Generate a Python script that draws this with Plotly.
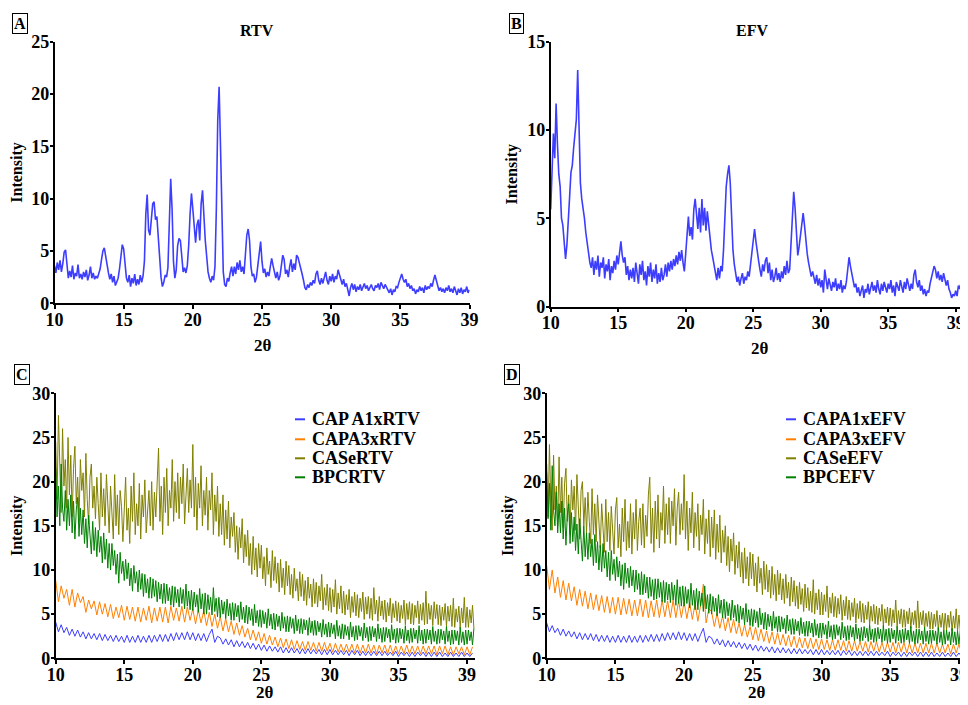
import plotly.graph_objects as go

# ---------------- DATA ----------------
# Panel A: RTV powder pattern, 2θ = 10.0 .. 40.0 step 0.1
rtv_intensity = [
    3.6, 2.9, 3.9, 3.2, 4.1, 3.0, 3.8, 4.9, 5.1, 3.4,
    2.4, 3.1, 2.5, 3.6, 2.3, 2.9, 2.6, 3.7, 2.4, 2.8,
    2.3, 3.0, 2.5, 3.2, 2.2, 2.7, 3.5, 2.4, 2.9, 2.3,
    2.6, 2.4, 2.9, 3.3, 4.2, 5.0, 5.3, 4.4, 3.8, 2.9,
    2.3, 2.8, 2.0, 2.6, 1.7, 2.1, 2.4, 3.3, 4.8, 5.6,
    5.2, 3.6, 2.4, 2.0, 2.7, 1.6, 2.4, 1.9, 2.8, 1.7,
    2.3, 1.8, 2.7, 2.0, 2.6, 4.0, 8.5, 10.4, 7.0, 6.5,
    8.2, 9.5, 9.7, 8.0, 8.3, 6.5, 4.0, 2.5, 1.6, 2.0,
    2.7, 2.5, 3.4, 7.5, 11.9, 9.0, 4.0, 2.4, 3.2, 5.5,
    6.2, 6.0, 4.5, 3.0, 3.4, 2.9, 3.6, 5.5, 8.5, 10.5,
    9.0, 7.0, 5.8, 7.5, 8.0, 6.0, 9.5, 10.8, 8.0, 6.0,
    4.5, 3.0, 2.4, 2.0, 2.6, 2.2, 3.5, 9.0, 17.5, 20.7,
    15.0, 8.0, 3.0, 1.8, 1.6, 2.4, 2.1, 2.9, 3.5, 2.6,
    3.5, 2.8, 3.9, 3.2, 4.1, 3.0, 3.5, 2.8, 4.5, 6.5,
    7.1, 6.0, 3.5, 2.6, 2.8, 2.0, 2.5, 3.8, 5.2, 5.9,
    4.0, 2.9, 3.3, 2.5, 3.0, 2.6, 3.5, 4.3, 3.6, 2.8,
    2.4, 3.0, 2.2, 2.6, 3.6, 4.6, 4.2, 2.8, 3.2, 2.5,
    3.5, 4.2, 3.0, 3.8, 3.2, 4.6, 4.4, 3.9, 3.5, 2.8,
    2.2, 1.5, 1.3, 1.8, 1.5, 2.0, 1.7, 2.2, 1.9, 2.8,
    3.1, 2.2, 1.8, 2.4, 1.9, 2.6, 3.0, 2.2, 1.8, 2.6,
    2.1, 2.8, 2.0, 2.6, 2.3, 3.2, 2.7, 2.2, 1.8, 2.3,
    1.6, 1.9, 1.2, 0.7, 1.5, 1.9, 1.3, 1.8, 1.1, 1.6,
    1.3, 1.8, 1.2, 1.6, 1.9, 1.4, 1.7, 1.2, 1.5, 1.8,
    1.4, 1.2, 1.7, 1.5, 1.9, 1.3, 2.0, 1.6, 1.4, 1.8,
    1.5, 1.2, 1.0, 1.4, 0.8, 1.3, 1.1, 1.6, 1.5, 2.0,
    2.4, 2.8, 2.3, 2.0, 2.3, 1.6, 1.9, 1.4, 1.7, 1.2,
    1.4, 0.9, 1.3, 1.1, 1.6, 1.2, 1.5, 1.0, 1.7, 1.3,
    1.6, 1.4, 1.9, 1.6, 2.2, 2.7, 2.2, 1.7, 1.2, 1.5,
    1.1, 1.4, 1.0, 1.5, 1.2, 1.7, 1.1, 1.4, 1.0, 1.6,
    1.2, 0.8, 1.4, 1.0, 1.5, 0.9, 1.3, 1.1, 1.6, 1.0,
    1.3,
]

# Panel B: EFV powder pattern, 2θ = 10.0 .. 40.9 step 0.1
efv_intensity = [
    5.5, 8.0, 9.8, 8.4, 11.5, 9.2, 7.5, 6.8, 5.0, 4.6,
    3.3, 2.7, 3.5, 4.6, 6.2, 7.6, 8.0, 9.0, 9.8, 10.6,
    13.4, 10.2, 7.0, 6.1, 5.6, 5.0, 4.2, 3.6, 3.0, 2.5,
    2.2, 2.8, 1.8, 2.6, 2.1, 2.9, 1.7, 2.5, 2.2, 2.8,
    1.6, 2.4, 2.0, 2.7, 1.5, 2.3, 1.9, 2.6, 2.1, 2.9,
    2.4, 3.2, 3.7, 2.9, 2.5, 2.8, 1.8, 2.3, 1.5, 2.1,
    1.6, 2.2, 1.4, 2.5, 1.9, 1.3, 2.4, 1.8, 2.6, 1.5,
    2.0, 1.2, 2.3, 1.7, 2.5, 1.4, 2.1, 1.6, 2.4, 1.3,
    1.9, 1.4, 2.2, 1.5, 1.8, 2.4, 1.7, 2.5, 2.0, 2.6,
    2.1, 2.7, 2.3, 2.9, 2.4, 3.1, 2.6, 3.2, 2.5, 2.0,
    3.0, 4.2, 5.1, 4.0, 4.5, 3.8, 5.5, 6.1, 5.0, 4.4,
    5.6, 4.2, 6.1, 4.6, 5.6, 4.3, 5.4, 4.6, 3.8, 3.2,
    2.8, 2.4, 2.0, 1.5, 2.2, 1.6, 2.3, 2.0, 3.2, 5.5,
    6.8, 7.5, 8.0, 7.0, 5.0, 3.2, 2.4, 1.8, 1.4, 1.7,
    1.2, 1.6, 1.9, 1.3, 1.7, 1.5, 2.0, 1.7, 2.4, 3.0,
    3.5, 4.4, 3.7, 3.0, 2.6, 2.1, 1.7, 2.4, 2.0, 2.6,
    2.8, 1.9, 2.5, 1.5, 2.1, 1.4, 1.7, 2.2, 1.5, 1.9,
    1.4, 2.0, 1.6, 2.3, 1.8, 2.6, 1.9, 2.1, 3.4, 5.2,
    6.5, 5.6, 4.0, 2.9, 3.4, 4.0, 4.8, 5.3, 4.6, 3.6,
    3.0, 2.5, 2.1, 1.7, 2.0, 1.6, 1.3, 1.8, 1.2, 1.6,
    1.1, 1.5, 0.8, 2.1, 1.4, 1.0, 1.6, 1.2, 0.9, 1.4,
    1.1, 1.6, 0.9, 1.3, 1.0, 1.5, 0.8, 1.2, 1.0, 1.4,
    2.0, 2.8, 2.3, 1.9, 1.4, 1.1, 1.3, 0.8, 1.1, 0.6,
    0.9, 1.2, 0.5, 1.0, 0.8, 1.3, 0.7, 1.1, 1.4, 0.9,
    1.2, 0.8, 1.5, 1.0, 0.7, 1.3, 0.9, 1.4, 1.1, 0.8,
    1.3, 1.0, 1.5, 0.8, 1.2, 0.6, 1.4, 1.1, 0.9, 1.5,
    1.2, 0.8, 1.4, 1.0, 1.6, 1.2, 0.9, 1.3, 1.0, 1.8,
    2.1, 1.4, 1.1, 1.5, 0.9, 1.2, 0.7, 1.0, 0.6, 0.9,
    0.8, 1.3, 1.6, 1.9, 2.3, 2.1, 1.6, 2.0, 1.5, 1.8,
    1.4, 1.9, 1.6, 1.2, 1.5, 1.0, 0.8, 0.5, 0.7, 0.6,
    0.9, 0.6, 1.2, 1.0, 1.4, 1.3, 1.6, 1.9, 2.2, 2.5,
]

# Panel C (RTV complexes). Olive/green read every 0.1°, blue/orange every 0.2°, from 2θ = 10
capa1_rtv = [
    4.1, 3.0, 3.8, 2.9, 3.5,  2.6, 3.3, 2.5, 3.2, 2.4,  3.0, 2.2, 2.9, 2.2, 2.8,
    2.1, 2.8, 2.0, 2.7, 2.0,  2.6, 1.9, 2.6, 1.9, 2.5,  1.8, 2.6, 1.8, 2.5, 1.8,
    2.6, 1.8, 2.5, 1.8, 2.6,  1.8, 2.6, 1.9, 2.7, 1.9,  2.7, 1.9, 2.8, 2.0, 2.9,
    2.1, 2.9, 2.1, 3.0, 2.1,  2.9, 2.0, 2.8, 2.0, 2.8,  1.9, 2.7, 3.3, 1.8, 2.5,
    2.3, 1.6, 2.2, 1.5, 2.1,  1.3, 2.0, 1.3, 1.9, 1.2,  1.8, 1.1, 1.7, 1.0, 1.6,
    0.9, 1.5, 0.8, 1.4, 0.8,  1.3, 0.7, 1.3, 0.6, 1.2,  0.6, 1.2, 0.6, 1.1, 0.5,
    1.1, 0.5, 1.1, 0.5, 1.0,  0.5, 1.0, 0.4, 1.0, 0.4,  1.0, 0.4, 0.9, 0.4, 0.9,
    0.4, 0.9, 0.3, 0.9, 0.4,  0.9, 0.3, 0.8, 0.3, 0.8,  0.3, 0.8, 0.3, 0.8, 0.3,
    0.8, 0.3, 0.7, 0.3, 0.8,  0.2, 0.7, 0.3, 0.7, 0.2,  0.7, 0.2, 0.7, 0.3, 0.7,
    0.2, 0.7, 0.2, 0.7, 0.2,  0.7, 0.2, 0.6, 0.2, 0.7,  0.2, 0.6, 0.2, 0.7, 0.2,
    0.6, 0.2, 0.6,
]
capa3_rtv = [
    8.8, 6.4, 8.2, 6.8, 7.8,  6.0, 7.8, 5.8, 7.4, 6.3,  7.0, 5.2, 6.6, 5.6, 6.5,
    4.9, 6.4, 5.0, 6.2, 4.7,  6.1, 4.5, 5.8, 4.6, 6.0,  4.3, 5.9, 4.4, 5.8, 4.2,
    5.8, 4.1, 5.7, 4.3, 5.9,  4.0, 5.7, 4.2, 5.8, 4.1,  5.8, 4.0, 5.9, 4.3, 5.7,
    4.2, 5.9, 4.1, 5.8, 4.3,  5.6, 3.9, 5.5, 4.0, 5.4,  3.7, 5.2, 3.6, 5.0, 3.4,
    4.7, 3.1, 4.5, 3.0, 4.2,  2.7, 4.0, 2.6, 3.7, 2.4,  3.4, 2.1, 3.2, 2.0, 3.0,
    1.7, 2.8, 1.6, 2.6, 1.5,  2.4, 1.3, 2.3, 1.2, 2.2,  1.1, 2.1, 1.0, 2.0, 1.0,
    1.9, 0.9, 1.9, 0.9, 1.8,  0.8, 1.8, 0.8, 1.8, 0.8,  1.7, 0.7, 1.7, 0.7, 1.6,
    0.7, 1.6, 0.7, 1.6, 0.6,  1.6, 0.6, 1.5, 0.6, 1.6,  0.6, 1.5, 0.5, 1.5, 0.6,
    1.5, 0.5, 1.5, 0.5, 1.4,  0.5, 1.4, 0.5, 1.5, 0.5,  1.4, 0.5, 1.4, 0.5, 1.4,
    0.5, 1.4, 0.5, 1.4, 0.4,  1.4, 0.5, 1.4, 0.4, 1.3,  0.4, 1.3, 0.5, 1.3, 0.4,
    1.3, 0.4, 1.3,
]
case_rtv = [
    24.5, 18.0, 27.5, 20.0, 16.5, 26.0, 19.5, 22.5, 17.0, 25.0,
    18.5, 23.0, 16.0, 21.5, 24.0, 17.5, 20.5, 15.5, 22.5, 19.0,
    21.0, 16.0, 23.2, 18.0, 15.2, 20.5, 22.0, 17.0, 19.5, 15.8,
    20.5, 17.5, 14.5, 21.0, 16.0, 19.2, 15.0, 20.8, 17.0, 14.2,
    19.5, 16.5, 13.5, 20.8, 15.0, 18.5, 14.0, 19.0, 17.2, 13.2,
    18.0, 20.5, 14.5, 17.0, 13.0, 19.5, 15.5, 21.0, 14.0, 17.5,
    15.0, 19.8, 13.5, 18.5, 16.0, 20.2, 14.2, 17.5, 19.0, 15.0,
    20.0, 14.5, 18.8, 16.0, 21.0, 23.8, 15.5, 19.5, 14.0, 20.5,
    16.5, 21.5, 15.0, 19.0, 17.0, 22.5, 15.5, 20.0, 16.5, 21.0,
    15.8, 20.5, 17.5, 22.0, 15.2, 19.5, 21.5, 16.5, 20.2, 17.0,
    24.2, 16.0, 20.5, 14.5, 19.8, 17.0, 21.8, 15.0, 19.0, 16.2,
    20.5, 14.5, 19.0, 16.8, 21.0, 14.0, 18.5, 15.5, 19.5, 13.8,
    17.5, 14.0, 18.5, 12.8, 16.8, 13.5, 17.8, 12.5, 16.0, 13.8,
    16.5, 12.0, 15.0, 11.2, 14.8, 12.5, 15.8, 10.8, 14.0, 11.5,
    14.5, 10.5, 13.0, 9.5, 13.8, 10.0, 12.5, 9.2, 13.0, 10.2,
    12.8, 9.0, 11.5, 8.2, 12.5, 9.5, 11.0, 8.0, 12.2, 8.8,
    11.5, 8.5, 10.8, 7.5, 11.2, 8.0, 10.2, 7.2, 11.0, 8.2,
    10.5, 7.2, 9.5, 6.8, 10.2, 7.6, 9.0, 6.5, 9.8, 7.0,
    9.5, 6.5, 8.8, 6.0, 9.2, 6.8, 8.4, 5.8, 9.0, 6.2,
    8.6, 5.8, 8.2, 6.5, 9.5, 5.5, 8.0, 6.0, 8.4, 5.4,
    8.0, 5.2, 7.8, 5.8, 8.9, 5.0, 7.4, 5.6, 8.2, 5.1,
    7.6, 4.9, 7.2, 5.5, 7.8, 4.6, 7.0, 5.2, 7.5, 4.8,
    7.2, 4.6, 6.8, 5.3, 7.5, 4.4, 6.9, 5.0, 7.0, 4.5,
    6.8, 4.3, 8.0, 5.0, 6.6, 4.2, 7.0, 4.8, 6.5, 4.4,
    6.6, 4.1, 6.3, 4.8, 6.8, 4.0, 6.2, 4.6, 6.5, 4.2,
    6.3, 4.0, 6.0, 4.5, 6.6, 3.8, 6.2, 4.4, 6.4, 3.9,
    6.2, 3.8, 6.0, 4.6, 6.5, 3.9, 6.1, 4.3, 6.3, 3.8,
    7.6, 3.9, 6.2, 4.4, 6.0, 3.7, 6.4, 4.5, 6.1, 3.8,
    6.0, 3.7, 5.8, 4.3, 6.2, 3.6, 5.9, 4.2, 6.0, 3.6,
    6.8, 3.5, 5.6, 4.1, 5.9, 3.4, 5.7, 4.0, 6.9, 3.5,
    5.8, 3.5, 5.5, 4.0, 6.0, 3.4,
]
bpc_rtv = [
    21.5, 16.0, 19.5, 15.0, 22.0, 17.0, 15.5, 19.0, 14.5, 18.0,
    15.0, 18.5, 14.2, 17.8, 13.5, 16.8, 18.2, 13.8, 17.0, 14.0,
    16.8, 13.0, 15.8, 12.5, 16.2, 13.8, 11.8, 15.5, 12.2, 14.8,
    11.5, 14.5, 12.0, 13.8, 10.8, 14.2, 11.2, 13.5, 10.2, 13.0,
    10.0, 13.0, 10.5, 12.2, 9.5, 11.8, 8.5, 12.0, 9.6, 11.0,
    8.8, 11.2, 9.0, 10.8, 8.2, 10.2, 7.6, 10.5, 8.5, 9.8,
    7.5, 10.0, 7.8, 9.6, 7.0, 9.5, 7.4, 9.0, 6.8, 9.2,
    6.8, 9.0, 7.0, 8.8, 6.4, 8.6, 6.7, 8.4, 6.2, 8.5,
    6.2, 8.4, 6.5, 8.0, 6.0, 8.2, 5.8, 8.1, 6.3, 7.8,
    5.8, 8.0, 6.2, 7.8, 5.6, 8.4, 5.9, 7.6, 5.5, 7.7,
    5.4, 7.5, 5.8, 7.2, 5.2, 7.9, 5.6, 7.3, 5.0, 7.4,
    5.0, 7.2, 5.5, 6.9, 4.9, 8.0, 5.3, 6.8, 4.7, 6.9,
    4.6, 6.6, 5.0, 6.4, 4.5, 6.7, 4.8, 6.2, 4.3, 6.3,
    4.3, 6.2, 4.7, 6.0, 4.1, 6.4, 4.4, 5.8, 4.0, 6.0,
    3.9, 5.8, 4.3, 5.6, 3.7, 6.1, 4.0, 5.4, 3.6, 5.5,
    3.5, 5.4, 3.9, 5.2, 3.4, 5.6, 3.7, 5.0, 3.3, 5.1,
    3.2, 5.0, 3.6, 4.8, 3.1, 5.2, 3.4, 4.7, 3.0, 4.8,
    3.0, 4.7, 3.4, 4.5, 2.8, 4.9, 3.1, 4.4, 2.8, 4.5,
    2.8, 4.4, 3.2, 4.3, 2.6, 4.6, 2.9, 4.2, 2.6, 4.3,
    2.6, 4.2, 3.0, 4.0, 2.4, 4.4, 2.7, 3.9, 2.4, 4.1,
    2.4, 4.0, 2.8, 3.8, 2.2, 4.3, 2.5, 3.7, 2.2, 3.9,
    2.2, 3.8, 2.6, 3.6, 2.1, 4.1, 2.4, 3.6, 2.0, 3.7,
    2.1, 3.7, 2.5, 3.5, 2.0, 4.0, 2.3, 3.5, 1.9, 3.6,
    2.0, 3.6, 2.4, 3.4, 1.9, 3.9, 2.2, 3.4, 1.8, 3.5,
    1.9, 3.5, 2.3, 3.3, 1.8, 3.8, 2.1, 3.3, 1.7, 3.4,
    1.8, 3.4, 2.2, 3.3, 1.7, 3.7, 2.0, 3.2, 1.7, 3.4,
    1.8, 3.4, 2.2, 3.2, 1.7, 3.7, 2.0, 3.2, 1.6, 3.3,
    1.7, 3.3, 2.1, 3.2, 1.6, 3.6, 1.9, 3.1, 1.6, 3.3,
    1.7, 3.3, 2.1, 3.1, 1.6, 3.6, 1.9, 3.1, 1.5, 3.2,
    1.6, 3.2, 2.0, 3.1, 1.5, 3.5, 1.8, 3.0, 1.5, 3.2,
    1.6, 3.2, 2.0, 3.0, 1.5, 3.4,
]

# Panel D (EFV complexes)
capa1_efv = [
    4.0, 3.0, 3.7, 2.9, 3.4,  2.6, 3.3, 2.5, 3.1, 2.4,  3.0, 2.2, 2.9, 2.1, 2.8,
    2.1, 2.8, 2.0, 2.7, 1.9,  2.6, 1.9, 2.6, 1.8, 2.5,  1.8, 2.6, 1.8, 2.5, 1.8,
    2.6, 1.8, 2.5, 1.8, 2.6,  1.8, 2.6, 1.9, 2.7, 1.9,  2.7, 1.9, 2.8, 2.0, 2.9,
    2.1, 2.9, 2.1, 3.0, 2.1,  2.9, 2.0, 2.8, 2.0, 2.8,  1.9, 2.7, 3.4, 1.8, 2.5,
    2.3, 1.6, 2.2, 1.5, 2.1,  1.3, 2.0, 1.3, 1.9, 1.2,  1.8, 1.1, 1.7, 1.0, 1.6,
    0.9, 1.5, 0.8, 1.4, 0.8,  1.3, 0.7, 1.3, 0.6, 1.2,  0.6, 1.2, 0.6, 1.1, 0.5,
    1.1, 0.5, 1.1, 0.5, 1.0,  0.5, 1.0, 0.4, 1.0, 0.4,  1.0, 0.4, 0.9, 0.4, 0.9,
    0.4, 0.9, 0.3, 0.9, 0.4,  0.9, 0.3, 0.8, 0.3, 0.8,  0.3, 0.8, 0.3, 0.8, 0.3,
    0.8, 0.3, 0.7, 0.3, 0.8,  0.2, 0.7, 0.3, 0.7, 0.2,  0.7, 0.2, 0.7, 0.3, 0.7,
    0.2, 0.7, 0.2, 0.7, 0.2,  0.7, 0.2, 0.6, 0.2, 0.7,  0.2, 0.6, 0.2, 0.7, 0.2,
    0.6, 0.2, 0.6,
]
capa3_efv = [
    10.5, 7.8, 10.0, 7.4, 9.2,  6.9, 8.8, 6.6, 8.5, 6.5,  8.1, 6.0, 7.8, 5.9, 7.6,
    5.6, 7.4, 5.5, 7.2, 5.4,  7.1, 5.2, 7.0, 5.1, 6.9,  5.0, 6.9, 4.9, 6.8, 5.0,
    6.7, 4.8, 6.6, 4.8, 6.7,  4.7, 6.6, 4.6, 6.5, 4.7,  6.6, 4.6, 6.6, 4.7, 6.5,
    4.6, 6.6, 4.6, 6.5, 4.6,  6.4, 4.5, 6.3, 4.4, 6.2,  4.2, 6.0, 8.4, 4.0, 5.6,
    5.3, 3.6, 5.1, 3.4, 4.8,  3.1, 4.6, 2.9, 4.4, 2.8,  4.0, 2.5, 3.8, 2.4, 3.6,
    2.1, 3.5, 2.0, 3.3, 1.9,  3.1, 1.7, 3.0, 1.6, 2.9,  1.5, 2.7, 1.4, 2.6, 1.3,
    2.5, 1.2, 2.4, 1.2, 2.3,  1.1, 2.3, 1.1, 2.2, 1.0,  2.2, 1.0, 2.1, 0.9, 2.1,
    0.9, 2.1, 0.9, 2.0, 0.8,  2.0, 0.8, 2.0, 0.8, 1.9,  0.8, 1.9, 0.7, 1.9, 0.8,
    1.9, 0.7, 1.8, 0.7, 1.8,  0.7, 1.8, 0.6, 1.8, 0.7,  1.8, 0.6, 1.7, 0.6, 1.7,
    0.6, 1.7, 0.6, 1.7, 0.6,  1.7, 0.6, 1.7, 0.6, 1.6,  0.6, 1.6, 0.5, 1.6, 0.6,
    1.6, 0.5, 1.6,
]
case_efv = [
    22.0, 16.0, 24.2, 17.5, 14.5, 23.0, 16.8, 19.5, 15.0, 22.8,
    16.5, 20.5, 14.8, 19.8, 21.5, 15.5, 18.5, 14.0, 20.2, 16.8,
    19.5, 14.5, 20.8, 16.0, 13.5, 19.0, 20.0, 15.0, 18.2, 14.2,
    18.8, 15.5, 13.0, 19.2, 14.0, 17.5, 13.2, 18.5, 15.2, 12.5,
    17.5, 14.2, 12.0, 18.0, 13.2, 16.5, 12.2, 17.2, 14.8, 11.8,
    16.8, 18.2, 12.5, 15.2, 11.5, 17.0, 13.2, 18.0, 12.2, 15.5,
    12.5, 17.5, 11.8, 16.5, 13.5, 18.0, 12.2, 15.5, 17.0, 12.8,
    17.5, 12.5, 16.2, 13.8, 18.5, 20.5, 13.0, 17.0, 12.0, 17.8,
    13.5, 18.5, 12.5, 16.5, 14.5, 19.5, 13.0, 17.5, 14.0, 18.2,
    13.0, 17.8, 15.0, 19.2, 12.8, 17.0, 18.8, 14.0, 17.5, 14.5,
    20.8, 13.5, 17.8, 12.2, 17.0, 14.2, 18.8, 12.5, 16.5, 13.8,
    17.5, 12.2, 16.2, 14.0, 18.0, 11.8, 15.8, 13.0, 16.8, 11.5,
    16.0, 12.5, 16.8, 11.2, 15.2, 12.0, 16.2, 10.8, 14.5, 12.0,
    15.0, 10.5, 13.8, 9.8, 13.5, 11.0, 14.2, 9.5, 12.8, 10.2,
    13.2, 9.2, 12.0, 8.5, 12.5, 9.0, 11.5, 8.2, 12.0, 9.0,
    11.8, 8.2, 10.8, 7.5, 11.5, 8.5, 10.2, 7.2, 11.0, 7.8,
    10.6, 7.5, 10.0, 6.8, 10.4, 7.2, 9.5, 6.5, 10.0, 7.2,
    9.6, 6.6, 9.0, 6.2, 9.5, 6.8, 8.6, 5.9, 9.2, 6.4,
    8.8, 5.9, 8.2, 5.6, 8.6, 6.1, 7.9, 5.3, 8.4, 5.7,
    8.0, 5.4, 7.6, 5.2, 8.9, 5.0, 7.4, 5.5, 7.8, 4.9,
    7.5, 4.9, 7.2, 5.3, 8.2, 4.6, 6.9, 5.1, 7.4, 4.7,
    7.0, 4.6, 6.8, 5.0, 7.2, 4.3, 6.6, 4.8, 7.0, 4.4,
    6.6, 4.3, 6.3, 4.7, 6.8, 4.0, 6.2, 4.5, 6.5, 4.1,
    6.2, 4.0, 6.0, 4.4, 6.4, 3.8, 5.9, 4.2, 6.1, 3.9,
    5.9, 3.8, 5.7, 4.2, 6.1, 3.6, 5.6, 4.0, 5.8, 3.7,
    5.7, 3.6, 5.5, 4.0, 6.6, 3.5, 5.4, 3.9, 5.6, 3.5,
    5.5, 3.5, 5.3, 3.9, 5.7, 3.4, 5.2, 3.8, 5.4, 3.4,
    6.5, 3.4, 5.2, 3.8, 5.4, 3.3, 5.1, 3.6, 5.3, 3.3,
    5.2, 3.3, 5.0, 3.6, 5.4, 3.2, 4.9, 3.5, 5.1, 3.2,
    5.1, 3.2, 4.9, 3.5, 5.3, 3.1, 4.8, 3.4, 5.6, 3.1,
    4.9, 3.1, 4.8, 3.4, 5.2, 3.0,
]
bpc_efv = [
    21.0, 15.8, 19.8, 14.5, 21.8, 16.8, 15.0, 18.8, 14.2, 17.5,
    14.2, 17.8, 13.5, 17.0, 12.8, 16.2, 17.5, 13.0, 16.5, 13.2,
    16.0, 12.2, 15.2, 11.8, 15.8, 13.0, 11.0, 15.0, 11.5, 14.2,
    11.2, 14.2, 11.5, 13.5, 10.5, 14.0, 10.8, 13.2, 10.0, 12.8,
    9.8, 13.0, 10.2, 12.2, 9.2, 12.0, 8.8, 12.2, 9.5, 11.2,
    8.8, 11.5, 9.2, 11.0, 8.2, 10.6, 7.8, 10.8, 8.5, 10.2,
    8.0, 10.4, 8.2, 10.0, 7.5, 10.0, 7.8, 9.6, 7.2, 9.8,
    7.2, 9.5, 7.4, 9.2, 6.8, 9.2, 7.0, 8.9, 6.6, 9.0,
    6.7, 9.0, 6.9, 8.6, 6.4, 8.8, 6.3, 8.6, 6.6, 8.4,
    6.3, 8.6, 6.6, 8.3, 6.0, 8.9, 6.2, 8.1, 5.9, 8.2,
    5.9, 8.1, 6.2, 7.8, 5.7, 8.5, 6.0, 7.7, 5.5, 7.9,
    5.5, 7.6, 5.9, 7.4, 5.3, 8.2, 5.6, 7.2, 5.1, 7.3,
    5.0, 7.0, 5.3, 6.8, 4.8, 7.2, 5.1, 6.6, 4.6, 6.7,
    4.5, 6.4, 4.8, 6.2, 4.3, 6.6, 4.6, 6.0, 4.2, 6.1,
    4.0, 5.9, 4.4, 5.7, 3.8, 6.2, 4.1, 5.5, 3.7, 5.6,
    3.6, 5.5, 4.0, 5.3, 3.5, 5.7, 3.8, 5.1, 3.3, 5.2,
    3.2, 5.0, 3.6, 4.8, 3.1, 5.3, 3.4, 4.7, 3.0, 4.8,
    3.0, 4.7, 3.3, 4.5, 2.8, 4.9, 3.1, 4.4, 2.7, 4.5,
    2.7, 4.4, 3.1, 4.2, 2.6, 4.6, 2.8, 4.1, 2.5, 4.2,
    2.5, 4.2, 2.9, 4.0, 2.4, 4.4, 2.6, 3.9, 2.3, 4.0,
    2.3, 4.0, 2.7, 3.8, 2.2, 4.2, 2.4, 3.7, 2.1, 3.8,
    2.2, 3.8, 2.6, 3.6, 2.1, 4.1, 2.3, 3.6, 2.0, 3.7,
    2.1, 3.7, 2.4, 3.5, 2.0, 3.9, 2.2, 3.4, 1.9, 3.5,
    2.0, 3.6, 2.3, 3.4, 1.9, 3.8, 2.1, 3.3, 1.8, 3.4,
    1.9, 3.5, 2.2, 3.3, 1.8, 3.7, 2.0, 3.3, 1.7, 3.4,
    1.8, 3.4, 2.2, 3.2, 1.7, 3.6, 2.0, 3.2, 1.7, 3.3,
    1.8, 3.4, 2.1, 3.2, 1.7, 3.6, 1.9, 3.1, 1.6, 3.3,
    1.7, 3.3, 2.1, 3.1, 1.6, 3.5, 1.9, 3.1, 1.6, 3.2,
    1.7, 3.2, 2.0, 3.1, 1.6, 3.5, 1.8, 3.0, 1.5, 3.2,
    1.6, 3.2, 2.0, 3.0, 1.5, 3.4, 1.8, 3.0, 1.5, 3.1,
    1.6, 3.1, 1.9, 3.0, 1.5, 3.3,
]

x_tickvals = [10, 15, 20, 25, 30, 35, 40]
x_ticktext = ["10", "15", "20", "25", "30", "35", "39"]


def grid(values, step):
    """2θ positions of a scan that starts at 10° and is sampled every `step` degrees."""
    return [round(10 + i * step, 2) for i in range(len(values))]


BLUE = "#3d3dff"
ORANGE = "#ff8000"
OLIVE = "#808000"
GREEN = "#008000"
FONT = "Liberation Serif"

# The page body keeps the browser's default 8 px margin, so the figure is made
# 8 px smaller than the window and every layout position is taken relative to it.
OFF = 8
W, H = 968 - OFF, 705 - OFF


def X(px):
    return (px - OFF) / W


def Y(py):
    return 1 - (py - OFF) / H


# ---------------- FIGURE ----------------
fig = go.Figure()

fig.add_trace(go.Scatter(x=grid(rtv_intensity, 0.1), y=rtv_intensity, mode="lines",
                         line=dict(color=BLUE, width=1.6), showlegend=False,
                         xaxis="x", yaxis="y", name="RTV"))
fig.add_trace(go.Scatter(x=grid(efv_intensity, 0.1), y=efv_intensity, mode="lines",
                         line=dict(color=BLUE, width=1.6), showlegend=False,
                         xaxis="x2", yaxis="y2", name="EFV"))

c_series = [("CAP A1xRTV", capa1_rtv, 0.2, BLUE), ("CAPA3xRTV", capa3_rtv, 0.2, ORANGE),
            ("CASeRTV", case_rtv, 0.1, OLIVE), ("BPCRTV", bpc_rtv, 0.1, GREEN)]
d_series = [("CAPA1xEFV", capa1_efv, 0.2, BLUE), ("CAPA3xEFV", capa3_efv, 0.2, ORANGE),
            ("CASeEFV", case_efv, 0.1, OLIVE), ("BPCEFV", bpc_efv, 0.1, GREEN)]

for series, xa, ya in [(c_series, "x3", "y3"), (d_series, "x4", "y4")]:
    for name, vals, step, col in series:
        fig.add_trace(go.Scatter(x=grid(vals, step), y=vals, mode="lines", name=name,
                                 line=dict(color=col, width=1), xaxis=xa, yaxis=ya,
                                 showlegend=False))

tickfont = dict(family=FONT, size=18, color="black", weight="bold")


def xaxis(dom, rng, anchor):
    return dict(domain=dom, range=rng, anchor=anchor, automargin=False,
                showgrid=False, zeroline=False,
                showline=True, linecolor="black", linewidth=1.5, ticks="outside",
                ticklen=4, tickwidth=1.5, tickcolor="black", tickvals=x_tickvals,
                ticktext=x_ticktext, tickfont=tickfont, ticklabelstandoff=-5)


def yaxis(dom, rng, anchor):
    return dict(domain=dom, range=rng, anchor=anchor, automargin=False,
                showgrid=False, zeroline=False,
                showline=True, linecolor="black", linewidth=1.5, ticks="outside",
                ticklen=3, tickwidth=1.5, tickcolor="black", dtick=5, tick0=0,
                tickfont=tickfont, ticklabelstandoff=-3,
                title=dict(text="Intensity", font=dict(family=FONT, size=16, color="black",
                                                       weight="bold"), standoff=6))


fig.update_layout(
    width=W, height=H,
    margin=dict(l=0, r=0, t=0, b=0, autoexpand=False),
    paper_bgcolor="white", plot_bgcolor="white",
    showlegend=False,
    xaxis=xaxis([X(54.5), X(469.5)], [10, 40], "y"),
    yaxis=yaxis([Y(303.3), Y(41.7)], [0, 25], "x"),
    xaxis2=xaxis([X(550.7), 1.0], [10, 40.91], "y2"),
    yaxis2=yaxis([Y(306.7), Y(41.7)], [0, 15], "x2"),
    xaxis3=xaxis([X(55.7), X(475)], [10, 40.58], "y3"),
    yaxis3=yaxis([Y(658.3), Y(393.3)], [0, 30], "x3"),
    xaxis4=xaxis([X(546.7), 1.0], [10, 40.66], "y4"),
    yaxis4=yaxis([Y(658.3), Y(393.3)], [0, 30], "x4"),
)

# panel titles, x-axis titles and boxed panel letters
labels = [("RTV", 257, 31, 16, False), ("EFV", 752, 31, 16, False),
          ("2θ", 263, 345, 17, False), ("2θ", 760, 348, 17, False),
          ("2θ", 265, 692, 17, False), ("2θ", 757, 692, 17, False),
          ("A", 19.5, 24, 16, True), ("B", 516.5, 24, 16, True),
          ("C", 22.3, 375, 16, True), ("D", 512, 375, 16, True)]
for text, px, py, size, boxed in labels:
    fig.add_annotation(
        text=text, x=X(px), y=Y(py), xref="paper", yref="paper",
        xanchor="center", yanchor="middle", showarrow=False,
        font=dict(family=FONT, size=size, color="black", weight="bold"),
        bordercolor="black" if boxed else "rgba(0,0,0,0)", borderwidth=1,
        borderpad=1 if boxed else 0,
    )

# legends of panels C and D (short coloured dash + bold label)
legend_rows_y = [419.3, 439.3, 458.3, 477.3]
for series, dash_x0, text_x in [(c_series, 295, 310), (d_series, 786, 801)]:
    for (name, _vals, _step, col), ry in zip(series, legend_rows_y):
        fig.add_shape(type="line", xref="paper", yref="paper",
                      x0=X(dash_x0), x1=X(dash_x0 + 10), y0=Y(ry), y1=Y(ry),
                      line=dict(color=col, width=2))
        fig.add_annotation(text=name, x=X(text_x), y=Y(ry), xref="paper", yref="paper",
                           xanchor="left", yanchor="middle", showarrow=False,
                           font=dict(family=FONT, size=18, color="black", weight="bold"))

fig.write_html("out.html")
